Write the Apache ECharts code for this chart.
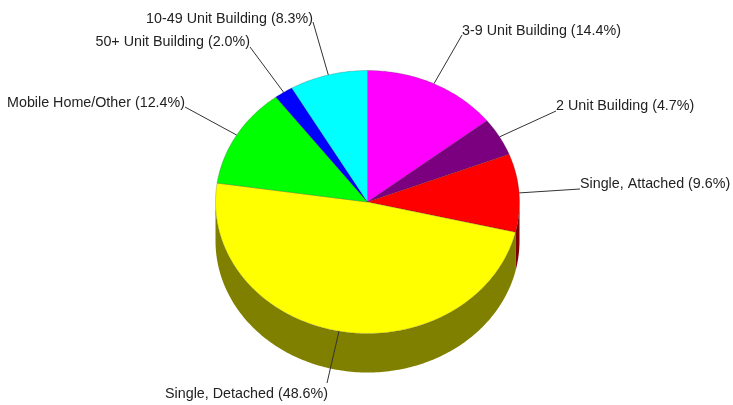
<!DOCTYPE html>
<html>
<head>
<meta charset="utf-8">
<style>
  html, body { margin: 0; padding: 0; background: #fff; }
  #chart { width: 733px; height: 405px; }
</style>
<script src="https://cdn.jsdelivr.net/npm/echarts@6/dist/echarts.min.js"></script>
</head>
<body>
<div id="chart"></div>
<script>
// clockwise from 12 o'clock
var categories = ['3-9 Unit Building', '2 Unit Building', 'Single, Attached', 'Single, Detached', 'Mobile Home/Other', '50+ Unit Building', '10-49 Unit Building']
var shares = [14.4, 4.7, 9.6, 48.6, 12.4, 2.0, 8.3]

var topColors = ['#ff00ff', '#7a0080', '#ff0000', '#ffff00', '#00ff00', '#0000ff', '#00ffff']
var sideColors = ['#800080', '#400040', '#800000', '#808000', '#008000', '#000080', '#008080']

// where each label sits, and which end of the text the leader line meets
var labelPos = [[462, 31], [556, 106], [580, 184], [328, 394], [185, 103], [250, 42], [313, 19]]
var labelAlign = ['left', 'left', 'left', 'right', 'right', 'right', 'right']
var leaderEnd = [[462, 35], [556, 111], [580, 189], [327, 383], [185, 107], [250, 47], [313, 22]]

// pie is squashed, so it gets drawn as a custom series
var cx = 367.5
var cy = 202
var rx = 152
var ry = 131.5
var depth = 39

function pt (angle, drop) {
  return [cx + rx * Math.sin(angle), cy - ry * Math.cos(angle) + (drop || 0)]
}

function arc (a0, a1, drop) {
  var n = Math.max(2, Math.ceil(Math.abs(a1 - a0) * 60))
  var pts = []
  for (var i = 0; i <= n; i++) {
    pts.push(pt(a0 + (a1 - a0) * i / n, drop))
  }
  return pts
}

var total = shares.reduce(function (s, v) { return s + v }, 0)

function startAngle (idx) {
  var sum = 0
  for (var i = 0; i < idx; i++) sum += shares[i]
  return sum / total * Math.PI * 2
}

function renderSlice (params, api) {
  var i = params.dataIndex
  var a0 = startAngle(i)
  var a1 = a0 + api.value(0) / total * Math.PI * 2
  var children = []

  // only the front half of the rim is visible
  var w0 = Math.max(a0, Math.PI / 2)
  var w1 = Math.min(a1, Math.PI * 1.5)
  if (w1 > w0) {
    var wall = arc(w0, w1, 0).concat(arc(w1, w0, depth))
    children.push({
      type: 'polygon',
      shape: { points: wall },
      style: { fill: sideColors[i], stroke: null }
    })
  }

  children.push({
    type: 'polygon',
    z2: 2,
    shape: { points: [[cx, cy]].concat(arc(a0, a1, 0)) },
    style: { fill: topColors[i], stroke: 'rgba(40,40,40,0.45)', lineWidth: 0.5 }
  })

  var mid = (a0 + a1) / 2
  children.push({
    type: 'line',
    z2: 3,
    shape: {
      x1: pt(mid)[0],
      y1: pt(mid)[1],
      x2: leaderEnd[i][0],
      y2: leaderEnd[i][1]
    },
    style: { stroke: '#333', lineWidth: 1 }
  })

  children.push({
    type: 'text',
    z2: 4,
    style: {
      x: labelPos[i][0],
      y: labelPos[i][1],
      text: categories[i] + ' (' + api.value(0).toFixed(1) + '%)',
      fill: '#222',
      font: '14.3px "Liberation Sans", Arial, sans-serif',
      align: labelAlign[i],
      verticalAlign: 'middle'
    }
  })

  return { type: 'group', children: children }
}

var chart = echarts.init(document.getElementById('chart'))
chart.setOption({
  backgroundColor: '#fff',
  animation: false,
  series: [{
    type: 'custom',
    coordinateSystem: 'none',
    renderItem: renderSlice,
    data: shares.map(function (v, i) { return { name: categories[i], value: [v] } })
  }]
})
</script>
</body>
</html>
